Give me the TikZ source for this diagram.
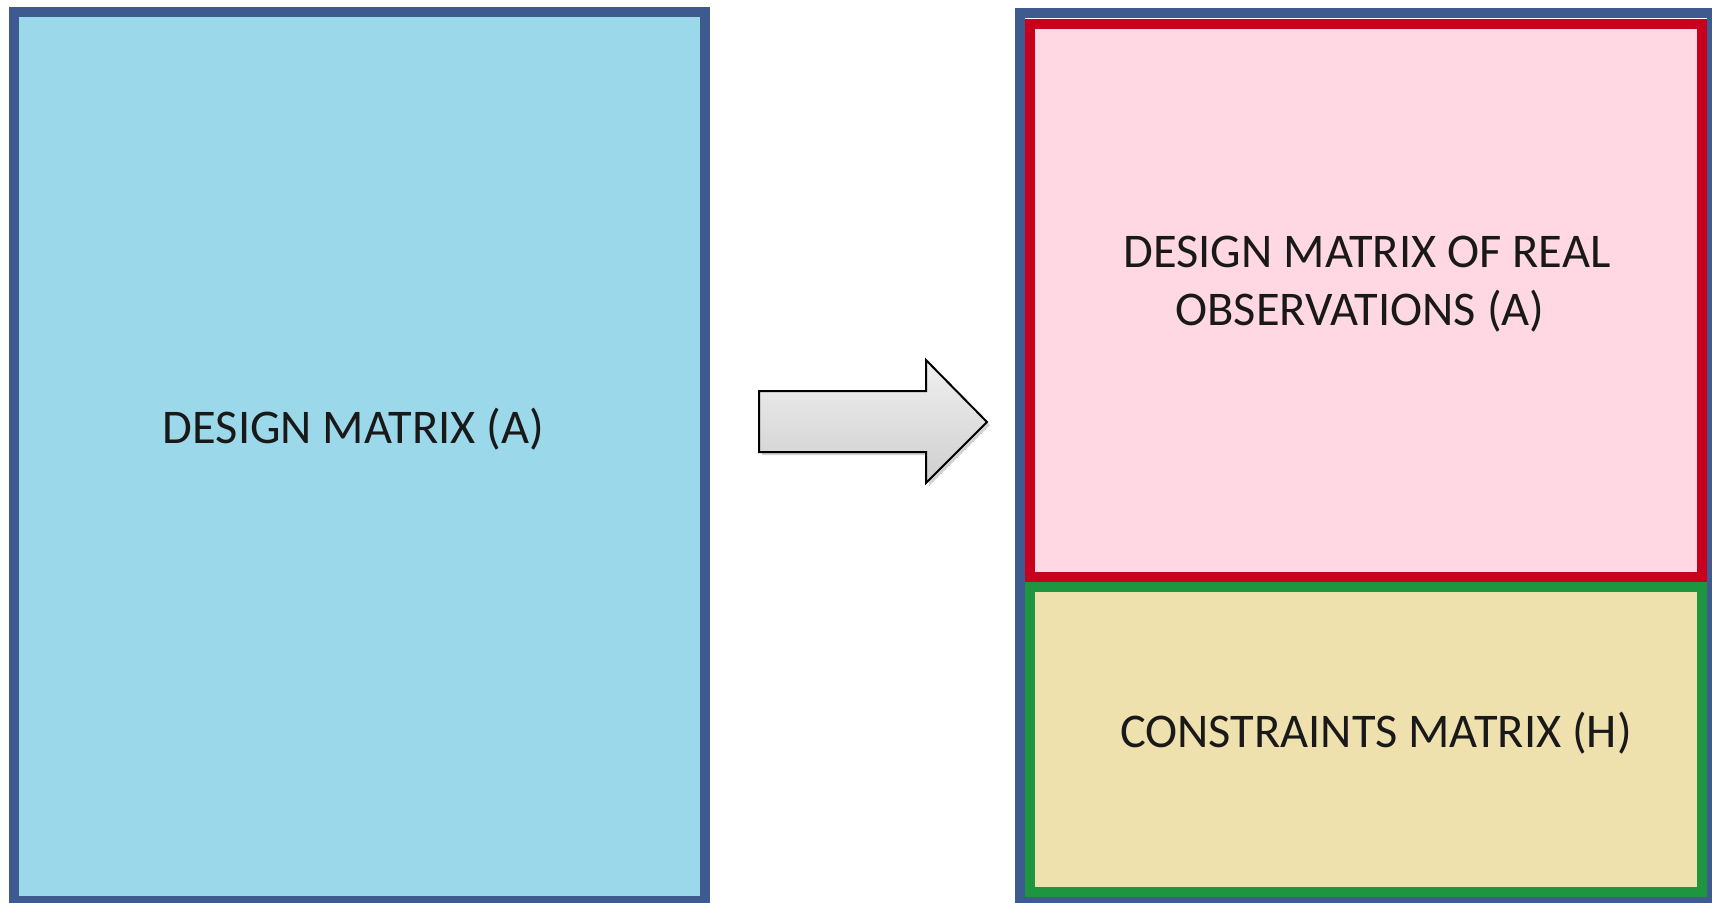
\documentclass[tikz,border=0pt]{standalone}
\usepackage{fontspec}
\setmainfont{Carlito}
\usetikzlibrary{shadows}
\definecolor{frameblue}{HTML}{3F5A8F}
\definecolor{fillblue}{HTML}{9BD8EA}
\definecolor{framered}{HTML}{C8001E}
\definecolor{fillpink}{HTML}{FFD8E4}
\definecolor{framegreen}{HTML}{1E9640}
\definecolor{fillyellow}{HTML}{EFE1AE}
\tikzset{
  boxstyle/.style={rectangle, line width=5pt, inner sep=0pt, outer sep=0pt},
  labelstyle/.style={font=\fontsize{24.2pt}{29pt}\selectfont, anchor=base, inner sep=0pt, text=black!90},
}
\begin{document}
\begin{tikzpicture}[x=0.5pt,y=-0.5pt]
\useasboundingbox (0,0) rectangle (1712,902);
\clip (0,0) rectangle (1712,902);
% left box
\node[boxstyle, draw=frameblue, fill=fillblue, minimum width=345.5pt, minimum height=444.5pt] (left) at (359.5,456.5) {};
% right outer box
\node[boxstyle, draw=frameblue, fill=white, minimum width=346pt, minimum height=444.5pt] (right) at (1366,457.5) {};
\node[boxstyle, draw=framered, fill=fillpink, minimum width=336pt, minimum height=276.75pt] (top) at (1366,300.25) {};
\node[boxstyle, draw=framegreen, fill=fillyellow, minimum width=336pt, minimum height=152.5pt] (bottom) at (1366,739.5) {};
% arrow
\path[top color=gray!12, bottom color=gray!38, draw=black, line width=1pt, line join=miter,
  drop shadow={shadow xshift=1.5pt, shadow yshift=-1.5pt, opacity=0.35}]
  (759,391) -- (926,391) -- (926,360) -- (987,422) -- (926,483) -- (926,452) -- (759,452) -- cycle;
% labels
\node[labelstyle] (lt) at (353.5,443) {DESIGN MATRIX (A)};
\node[labelstyle] (rt1) at (1367,267) {DESIGN MATRIX OF REAL};
\node[labelstyle] (rt2) at (1360,325) {OBSERVATIONS (A)};
\node[labelstyle] (rb) at (1376,747) {CONSTRAINTS MATRIX (H)};
\end{tikzpicture}
\end{document}
